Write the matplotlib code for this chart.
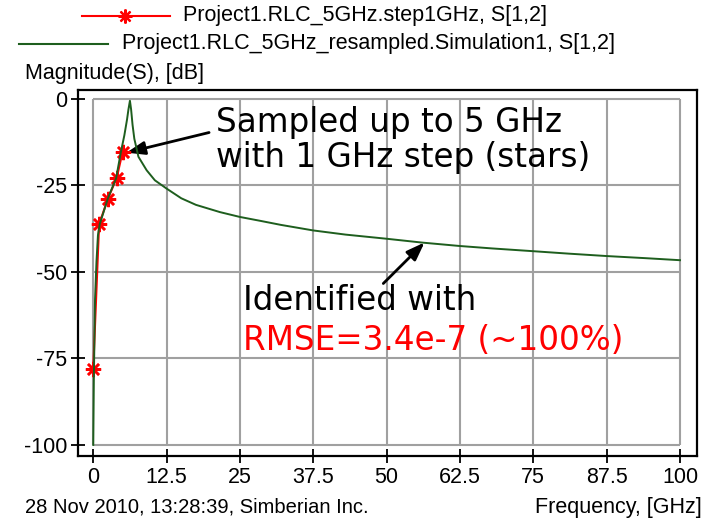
import matplotlib
matplotlib.use("Agg")
import matplotlib.pyplot as plt
from matplotlib.lines import Line2D

# sampled points (stars), GHz / dB
sampled_freq = [0, 1, 2.5, 4, 5]
sampled_db = [-78, -36.2, -28.8, -22.8, -15.3]

# resampled / identified model, GHz / dB
model_freq = [0, 0.1, 0.3, 0.55, 0.8, 1.1, 2.5, 3.9, 4.7, 5.3, 5.75, 6.0, 6.25,
              6.45, 6.7, 7.0, 7.7, 9.1, 10.5, 12.5, 15, 17.5, 21.6, 25, 28.4,
              32, 37.5, 43, 50, 56, 62.5, 68, 75, 81, 87.5, 94, 100]
model_db = [-100, -81, -58, -47, -39.4, -36.2, -28.7, -22.9, -15.4, -10.5, -6, -3, -0.5,
            -3, -7.5, -11.5, -16.7, -20.6, -23.5, -25.9, -28.7, -30.6, -32.7, -34.1, -35.2,
            -36.4, -38.0, -39.2, -40.4, -41.5, -42.5, -43.2, -44.0, -44.7, -45.4, -46.0, -46.6]

x_ticks = [0, 12.5, 25, 37.5, 50, 62.5, 75, 87.5, 100]
x_labels = ["0", "12.5", "25", "37.5", "50", "62.5", "75", "87.5", "100"]
y_ticks = [0, -25, -50, -75, -100]

plt.rcParams["font.family"] = ["Liberation Sans", "DejaVu Sans"]
plt.rcParams["axes.unicode_minus"] = False
ui_size = 15.5
note_size = 23.5

fig = plt.figure(figsize=(7.14, 5.19), dpi=100)
ax = fig.add_axes([78 / 714, 1 - 456 / 519, (697 - 78) / 714, (456 - 90) / 519])
ax.set_xlim(-2.6, 102.9)
ax.set_ylim(-103.2, 2.6)

# grid only inside the data rectangle
ax.hlines(y_ticks, 0, 100, colors="#a0a0a0", linewidth=1.5, zorder=1)
ax.vlines(x_ticks, -100, 0, colors="#a0a0a0", linewidth=1.5, zorder=1)

ax.plot(sampled_freq, sampled_db, color="red", linewidth=1.5, zorder=3)
ax.plot(sampled_freq, sampled_db, linestyle="none", marker=(8, 2, 0),
        markersize=11, markeredgewidth=1.8, color="red", zorder=4)
ax.plot(model_freq, model_db, color="#1e5e1e", linewidth=1.4, zorder=5)

ax.set_xticks(x_ticks)
ax.set_xticklabels(x_labels)
ax.set_yticks(y_ticks)
ax.tick_params(direction="inout", length=10, width=1.3, labelsize=ui_size, pad=3)
for sp in ax.spines.values():
    sp.set_linewidth(1.6)

ax.annotate("", xy=(5.2, -15.7), xytext=(20.2, -9.5),
            arrowprops=dict(arrowstyle="-|>,head_length=1.1,head_width=0.4", color="black", lw=2))
ax.text(20.9, -6.7, "Sampled up to 5 GHz", fontsize=note_size, family="DejaVu Sans", va="center")
ax.text(20.9, -16.8, "with 1 GHz step (stars)", fontsize=note_size, family="DejaVu Sans", va="center")

ax.annotate("", xy=(56.8, -40.9), xytext=(49.1, -53.9),
            arrowprops=dict(arrowstyle="-|>,head_length=1.1,head_width=0.4", color="black", lw=2))
ax.text(25.5, -58.3, "Identified with", fontsize=note_size, family="DejaVu Sans", va="center")
ax.text(25.5, -69.8, "RMSE=3.4e-7 (~100%)", fontsize=note_size, family="DejaVu Sans",
        va="center", color="red")

# legend at top
fig.add_artist(Line2D([82 / 714, 170 / 714], [1 - 16 / 519] * 2, color="red", lw=1.5))
fig.add_artist(Line2D([125 / 714], [1 - 16 / 519], color="red", marker=(8, 2, 0),
                      markersize=10, markeredgewidth=1.6))
fig.text(183 / 714, 1 - 16 / 519, "Project1.RLC_5GHz.step1GHz, S[1,2]", fontsize=ui_size, va="center")
fig.add_artist(Line2D([19 / 714, 108 / 714], [1 - 44 / 519] * 2, color="#1e5e1e", lw=1.5))
fig.text(122 / 714, 1 - 44 / 519, "Project1.RLC_5GHz_resampled.Simulation1, S[1,2]",
         fontsize=ui_size, va="center")
fig.text(25 / 714, 1 - 74 / 519, "Magnitude(S), [dB]", fontsize=ui_size, va="center")
fig.text(25 / 714, 1 - 507 / 519, "28 Nov 2010, 13:28:39, Simberian Inc.", fontsize=14.5, va="center")
fig.text(702 / 714, 1 - 507 / 519, "Frequency, [GHz]", fontsize=ui_size, va="center", ha="right")

fig.savefig("out.png", dpi=100)
